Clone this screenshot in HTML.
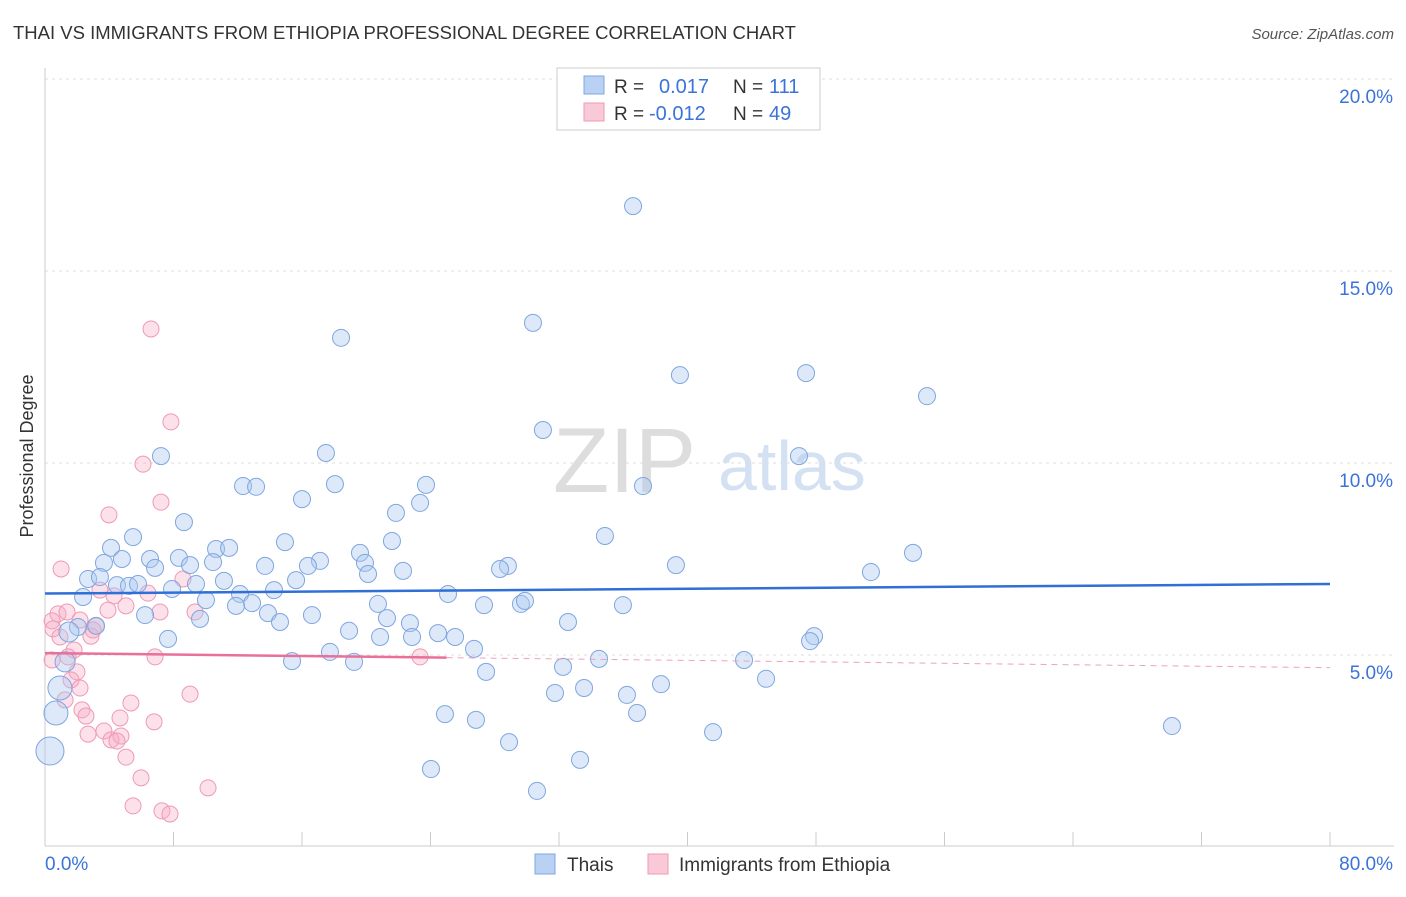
<!DOCTYPE html>
<html><head><meta charset="utf-8"><style>
body{margin:0;background:#fff;font-family:"Liberation Sans",sans-serif;}
svg text{font-family:"Liberation Sans",sans-serif;}
</style></head><body>
<svg id="chart" width="1406" height="892" xmlns="http://www.w3.org/2000/svg">
<text x="13" y="39" font-size="18.5" fill="#333">THAI VS IMMIGRANTS FROM ETHIOPIA PROFESSIONAL DEGREE CORRELATION CHART</text>
<text x="1394" y="39" font-size="15" fill="#555" text-anchor="end" font-style="italic">Source: ZipAtlas.com</text>
<g>
<text x="553" y="492" font-size="92" fill="#ddd" font-family="Liberation Serif,serif">ZIP</text>
<text x="718" y="490" font-size="70" fill="#d3e1f3">atlas</text>
</g>
<g id="grid"></g>
<g id="axes"></g>
<g id="pts"></g>
<g id="trends"></g>
<text transform="translate(33,456) rotate(-90)" font-size="18" fill="#333" text-anchor="middle">Professional Degree</text>
<g>
<rect x="557" y="68" width="263" height="62" fill="#fff" stroke="#ccc"/>
<rect x="584" y="76" width="20" height="18" fill="#b9d1f3" stroke="#7fa6e0"/>
<rect x="584" y="103" width="20" height="18" fill="#f9c9d8" stroke="#ee9ab4"/>
<text x="614" y="93" font-size="19" fill="#333">R =</text>
<text x="659" y="93" font-size="20" fill="#3b73d8">0.017</text>
<text x="733" y="93" font-size="19" fill="#333">N =</text>
<text x="769" y="93" font-size="20" fill="#3b73d8">111</text>
<text x="614" y="120" font-size="19" fill="#333">R =</text>
<text x="649" y="120" font-size="20" fill="#3b73d8">-0.012</text>
<text x="733" y="120" font-size="19" fill="#333">N =</text>
<text x="769" y="120" font-size="20" fill="#3b73d8">49</text>
</g>
<g>
<rect x="535" y="854" width="20" height="20" fill="#b9d1f3" stroke="#7fa6e0"/>
<text x="567" y="871" font-size="19" fill="#333">Thais</text>
<rect x="648" y="854" width="20" height="20" fill="#f9c9d8" stroke="#ee9ab4"/>
<text x="679" y="871" font-size="19" fill="#333">Immigrants from Ethiopia</text>
</g>
</svg>
<script>
const yTicks=[5,10,15,20];
const yTickLabels=["5.0%","10.0%","15.0%","20.0%"];
const xTickLabels=["0.0%","80.0%"];
const bluePx=[[633,206],[533,323],[341,338],[680,375],[806,373],[927,396],[543,430],[799,456],[161,456],[326,453],[243,486],[256,487],[335,484],[426,485],[643,486],[302,499],[420,503],[396,513],[184,522],[133,537],[111,548],[285,542],[605,536],[392,541],[913,553],[216,549],[229,548],[150,559],[179,558],[122,559],[104,563],[360,553],[320,561],[365,563],[508,566],[500,569],[676,565],[871,572],[155,568],[190,565],[213,562],[265,566],[308,566],[368,574],[403,571],[88,579],[100,577],[117,585],[129,586],[138,584],[172,589],[196,584],[224,581],[274,590],[296,580],[448,594],[83,597],[206,600],[240,594],[252,603],[236,606],[378,604],[484,605],[521,604],[525,601],[623,605],[145,615],[200,619],[268,613],[312,615],[280,622],[387,618],[410,623],[568,622],[78,627],[69,632],[96,626],[168,639],[349,631],[380,637],[412,637],[438,633],[455,637],[814,636],[810,641],[474,649],[330,652],[599,659],[744,660],[292,661],[354,662],[563,667],[486,672],[65,662],[766,679],[661,684],[584,688],[555,693],[627,695],[60,688],[445,714],[476,720],[637,713],[56,713],[509,742],[713,732],[1172,726],[50,751],[580,760],[431,769],[537,791]];
const pinkPx=[[151,329],[171,422],[143,464],[161,502],[109,515],[61,569],[183,579],[148,593],[100,590],[114,596],[58,614],[67,612],[52,621],[53,629],[80,620],[96,626],[108,610],[126,606],[160,612],[195,612],[91,636],[60,637],[74,650],[68,657],[52,660],[77,672],[155,657],[420,657],[71,680],[80,688],[190,694],[131,703],[82,710],[86,716],[120,718],[154,722],[88,734],[104,731],[111,740],[121,736],[117,741],[126,757],[141,778],[208,788],[133,806],[162,811],[170,814],[65,700],[93,630]];
const thaiX=bluePx.map(p=>+((p[0]-45)/1285*80).toFixed(2));
const thaiY=bluePx.map(p=>+((847-p[1])/38.4).toFixed(2));
const ethX=pinkPx.map(p=>+((p[0]-45)/1285*80).toFixed(2));
const ethY=pinkPx.map(p=>+((847-p[1])/38.4).toFixed(2));
const thaiTrend=[6.6,6.85];
const ethTrend=[5.05,4.67];
const X=v=>45+v/80*1285, Y=v=>847-v*38.4;
const NS="http://www.w3.org/2000/svg";
function mk(tag,attrs,parent){const e=document.createElementNS(NS,tag);for(const k in attrs)e.setAttribute(k,attrs[k]);document.getElementById(parent).appendChild(e);return e;}
yTicks.forEach((t,i)=>{
 const l=mk('line',{x1:45,x2:1394,y1:Y(t),y2:Y(t),stroke:'#ddd','stroke-dasharray':'3,4'},'grid');
 
 
 const tx=mk('text',{x:1393,y:Y(t)+24,'font-size':19,fill:'#3b73d8','text-anchor':'end'},'grid');
 tx.textContent=yTickLabels[i];
 
 
});
let a=mk('line',{x1:45,x2:45,y1:68,y2:846,stroke:'#ccc'},'axes');


a=mk('line',{x1:45,x2:1394,y1:846,y2:846,stroke:'#ccc'},'axes');


for(let i=0;i<=10;i++){const t=mk('line',{x1:X(i*8),x2:X(i*8),y1:832,y2:846,stroke:'#ccc'},'axes');
 
 }
[[0,45,'start'],[80,1393,'end']].forEach((d,i)=>{const t=mk('text',{x:d[1],y:870,'font-size':19,fill:'#3b73d8','text-anchor':d[2]},'axes');t.textContent=xTickLabels[i];
 
 });
ethX.forEach((x,i)=>{const c=mk('circle',{cx:X(x),cy:Y(ethY[i]),r:8,fill:'rgba(246,170,196,0.35)',stroke:'#ee9ab4','stroke-width':1},'pts');
 
 });
thaiX.forEach((x,i)=>{let r=8.5;if(x<0.5)r=14;else if(x<1.0&&thaiY[i]<5)r=12;else if(x<1.5)r=10;
 const c=mk('circle',{cx:X(x),cy:Y(thaiY[i]),r:r,fill:'rgba(170,200,240,0.4)',stroke:'#7fa6e0','stroke-width':1},'pts');
 
 });
let t=mk('line',{x1:X(0),x2:X(80),y1:Y(thaiTrend[0]),y2:Y(thaiTrend[1]),stroke:'#2f6fd6','stroke-width':2.5},'trends');


const ey=x=>ethTrend[0]+(ethTrend[1]-ethTrend[0])*x/80;
t=mk('line',{x1:X(0),x2:X(25),y1:Y(ey(0)),y2:Y(ey(25)),stroke:'#e8709a','stroke-width':2.5},'trends');


t=mk('line',{x1:X(25),x2:X(80),y1:Y(ey(25)),y2:Y(ey(80)),stroke:'#f0a0ba','stroke-width':1,'stroke-dasharray':'6,5'},'trends');


</script>
</body></html>
